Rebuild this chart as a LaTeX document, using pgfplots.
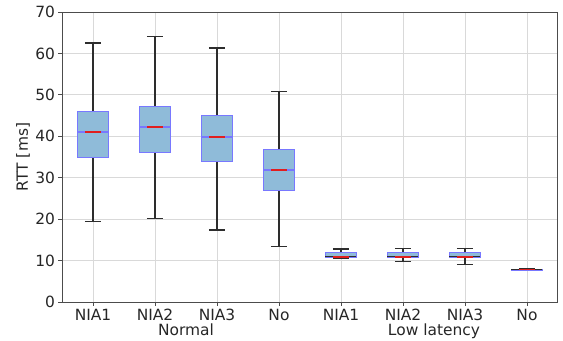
\documentclass[border=0pt]{standalone}
\usepackage{pgfplots}
\pgfplotsset{compat=1.18}
\usepgfplotslibrary{statistics}
\usepackage{fontspec}
\setmainfont{DejaVu Sans}
\definecolor{boxfill}{RGB}{143,187,217}
\definecolor{boxedge}{RGB}{120,120,255}
\definecolor{medred}{RGB}{225,30,30}
\definecolor{whisk}{RGB}{45,45,45}
\pgfplotsset{
  boxplot/every box/.style={draw=boxedge, fill=boxfill, line width=1pt},
}
\begin{document}
\begin{tikzpicture}
\useasboundingbox (-62bp,-39bp) rectangle (501bp,302bp);
\begin{axis}[
  at={(0,0)}, anchor=origin,
  scale only axis, width=496bp, height=290bp,
  xmin=0.5, xmax=8.5, ymin=0, ymax=70,
  xtick={1,2,3,4,5,6,7,8},
  xticklabels={NIA1,NIA2,NIA3,No,NIA1,NIA2,NIA3,No},
  ytick={0,10,...,70},
  xtick pos=bottom, ytick pos=left,
  tick align=outside, major tick length=3.5bp,
  tick style={black!70, line width=0.8pt},
  grid=major, grid style={black!15, line width=0.8pt},
  axis line style={black!70, line width=1pt},
  /pgf/number format/assume math mode=true,
  tick label style={font=\fontsize{15.5}{18}\selectfont, text=black!85},
  ylabel={RTT [ms]},
  every axis y label/.style={at={(axis description cs:0,0.5)}, xshift=-34bp, rotate=90, anchor=base, font=\fontsize{15.5}{18}\selectfont, text=black!85},
  boxplot/draw direction=y,
  mystyle/.style={draw=whisk, line width=1.2pt, boxplot={box extend=0.5, whisker extend=0.26}},
  medfull/.style={draw=boxedge, line width=1.4pt, forget plot},
  medred/.style={draw=medred, line width=1.4pt, forget plot},
]
\addplot[mystyle, boxplot prepared={draw position=1, lower whisker=19.5, lower quartile=35.0, median=41.0, upper quartile=45.9, upper whisker=62.5}] coordinates {};
\addplot[mystyle, boxplot prepared={draw position=2, lower whisker=20.2, lower quartile=36.2, median=42.2, upper quartile=47.3, upper whisker=64.0}] coordinates {};
\addplot[mystyle, boxplot prepared={draw position=3, lower whisker=17.4, lower quartile=33.8, median=39.8, upper quartile=44.9, upper whisker=61.3}] coordinates {};
\addplot[mystyle, boxplot prepared={draw position=4, lower whisker=13.3, lower quartile=27.0, median=31.9, upper quartile=36.9, upper whisker=50.9}] coordinates {};
\addplot[mystyle, boxplot prepared={draw position=5, lower whisker=10.6, lower quartile=10.7, median=10.9, upper quartile=11.9, upper whisker=12.8}] coordinates {};
\addplot[mystyle, boxplot prepared={draw position=6, lower whisker=9.7, lower quartile=10.7, median=10.9, upper quartile=11.9, upper whisker=12.9}] coordinates {};
\addplot[mystyle, boxplot prepared={draw position=7, lower whisker=9.1, lower quartile=10.7, median=10.9, upper quartile=11.9, upper whisker=13.0}] coordinates {};
\addplot[mystyle, boxplot prepared={draw position=8, lower whisker=7.6, lower quartile=7.7, median=7.8, upper quartile=7.9, upper whisker=8.0}] coordinates {};
% medians (notched look: blue across full width, red across the notch)
\addplot[medfull] coordinates {(0.75,41.0) (1.25,41.0)};
\addplot[medfull] coordinates {(1.75,42.2) (2.25,42.2)};
\addplot[medfull] coordinates {(2.75,39.8) (3.25,39.8)};
\addplot[medfull] coordinates {(3.75,31.9) (4.25,31.9)};
\addplot[medred] coordinates {(0.875,41.0) (1.125,41.0)};
\addplot[medred] coordinates {(1.875,42.2) (2.125,42.2)};
\addplot[medred] coordinates {(2.875,39.8) (3.125,39.8)};
\addplot[medred] coordinates {(3.875,31.9) (4.125,31.9)};
\addplot[medred] coordinates {(4.875,10.9) (5.125,10.9)};
\addplot[medred] coordinates {(5.875,10.9) (6.125,10.9)};
\addplot[medred] coordinates {(6.875,10.9) (7.125,10.9)};
\addplot[medred] coordinates {(7.875,7.8) (8.125,7.8)};
\coordinate (g1) at (axis cs:2.5,0);
\coordinate (g2) at (axis cs:6.5,0);
\end{axis}
\node[anchor=base, yshift=-33bp, font=\fontsize{15.5}{18}\selectfont, text=black!85] at (g1) {Normal};
\node[anchor=base, yshift=-33bp, font=\fontsize{15.5}{18}\selectfont, text=black!85] at (g2) {Low latency};
\end{tikzpicture}
\end{document}
